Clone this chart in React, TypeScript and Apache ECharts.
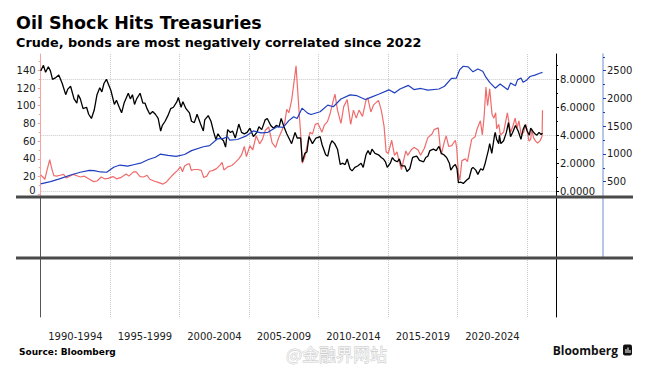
import React, { useEffect, useRef } from "react";
import * as echarts from "echarts";

// ---------------- data ----------------
const periodLabels = ["1990-1994", "1995-1999", "2000-2004", "2005-2009", "2010-2014", "2015-2019", "2020-2024"];
const crudeTicks = [0, 20, 40, 60, 80, 100, 120, 140];
const yieldTicks = [0, 2, 4, 6, 8];
const indexTicks = [500, 1000, 1500, 2000, 2500];

// WTI crude ($/bbl), left axis
const crudeOil: [number, number][] = [
  [1990.15, 22], [1990.3, 19.5], [1990.45, 17], [1990.6, 27], [1990.8, 39], [1990.9, 32], [1990.98, 27],
  [1991.1, 21], [1991.3, 20.5], [1991.55, 21.5], [1991.8, 22.5], [1992.0, 18.5], [1992.3, 21], [1992.5, 22.5],
  [1992.75, 21], [1993.0, 19.5], [1993.3, 20.5], [1993.6, 17.5], [1993.95, 14.3], [1994.2, 15], [1994.5, 19.5],
  [1994.75, 17.5], [1995.0, 18], [1995.35, 20], [1995.6, 17.5], [1995.9, 18.8], [1996.3, 23], [1996.5, 20.5],
  [1996.8, 25], [1997.0, 25.5], [1997.3, 20], [1997.55, 19.5], [1997.8, 21.5], [1998.0, 17], [1998.3, 15],
  [1998.6, 13.5], [1998.95, 11.5], [1999.2, 14], [1999.45, 18.5], [1999.75, 23.5], [2000.0, 27], [2000.2, 31],
  [2000.35, 25.5], [2000.5, 32], [2000.7, 34], [2000.85, 34.5], [2000.98, 27], [2001.2, 28], [2001.45, 28],
  [2001.7, 27], [2001.88, 19], [2002.1, 20.5], [2002.3, 26], [2002.55, 27], [2002.8, 29], [2003.05, 33],
  [2003.2, 36], [2003.33, 27.5], [2003.6, 31], [2003.9, 32.5], [2004.15, 36], [2004.4, 40], [2004.6, 44.5],
  [2004.8, 54], [2004.95, 42.5], [2005.2, 55], [2005.4, 50], [2005.65, 66], [2005.9, 57], [2006.1, 62],
  [2006.3, 72], [2006.55, 76], [2006.8, 58], [2007.05, 53], [2007.25, 63], [2007.5, 72], [2007.7, 80],
  [2007.85, 96], [2008.0, 92], [2008.2, 106], [2008.4, 130], [2008.52, 145], [2008.7, 102], [2008.85, 68],
  [2008.97, 35], [2009.15, 42], [2009.4, 62], [2009.52, 70], [2009.7, 68], [2009.9, 79], [2010.1, 80],
  [2010.38, 70], [2010.55, 78], [2010.78, 82], [2010.97, 91], [2011.2, 106], [2011.32, 113], [2011.5, 95],
  [2011.75, 80], [2011.95, 99], [2012.2, 107], [2012.45, 79], [2012.65, 95], [2012.85, 86], [2013.05, 95],
  [2013.3, 88], [2013.55, 106], [2013.68, 109], [2013.9, 93], [2014.1, 101], [2014.45, 106], [2014.65, 95],
  [2014.85, 77], [2015.0, 48], [2015.15, 46], [2015.4, 61], [2015.6, 44], [2015.78, 48], [2015.95, 36],
  [2016.1, 28], [2016.42, 49], [2016.55, 44], [2016.8, 50], [2017.0, 53], [2017.3, 50], [2017.48, 44],
  [2017.75, 52], [2018.0, 64], [2018.3, 68], [2018.45, 73], [2018.75, 75], [2018.88, 55], [2018.97, 45],
  [2019.2, 60], [2019.32, 66], [2019.5, 54], [2019.72, 55], [2019.98, 61], [2020.08, 52], [2020.2, 23],
  [2020.3, 16], [2020.45, 38], [2020.7, 40], [2020.85, 37], [2020.98, 48], [2021.15, 62], [2021.4, 65],
  [2021.55, 74], [2021.78, 83], [2021.92, 67], [2022.05, 88], [2022.18, 121], [2022.3, 100], [2022.45, 119],
  [2022.62, 90], [2022.75, 86], [2022.88, 92], [2022.95, 74], [2023.1, 79], [2023.22, 67], [2023.45, 70],
  [2023.72, 92], [2023.95, 70], [2024.1, 76], [2024.28, 86], [2024.42, 75], [2024.55, 83], [2024.72, 67],
  [2024.9, 70], [2025.05, 79], [2025.28, 60], [2025.4, 62], [2025.47, 74], [2025.6, 64], [2025.75, 60],
  [2025.9, 58], [2026.05, 60], [2026.18, 64], [2026.22, 66], [2026.25, 95],
];

// US 10-year yield (%), middle axis
const yield10y: [number, number][] = [
  [1990.15, 8.6], [1990.35, 9.0], [1990.5, 8.5], [1990.7, 8.9], [1990.85, 8.6], [1991.0, 8.0], [1991.2, 8.1],
  [1991.45, 8.3], [1991.7, 7.7], [1991.95, 6.9], [1992.1, 7.3], [1992.3, 7.5], [1992.55, 6.6], [1992.75, 6.3],
  [1992.85, 6.9], [1993.0, 6.6], [1993.2, 5.9], [1993.45, 6.0], [1993.6, 5.5], [1993.8, 5.2], [1994.0, 5.8],
  [1994.2, 6.9], [1994.4, 7.4], [1994.55, 7.1], [1994.7, 7.7], [1994.88, 8.0], [1995.0, 7.7], [1995.2, 7.2],
  [1995.45, 6.2], [1995.6, 6.5], [1995.8, 6.0], [1995.97, 5.6], [1996.15, 6.3], [1996.45, 7.0], [1996.6, 6.6],
  [1996.75, 6.9], [1996.9, 6.2], [1997.05, 6.6], [1997.3, 7.0], [1997.5, 6.3], [1997.65, 6.3], [1997.8, 5.9],
  [1998.0, 5.5], [1998.2, 5.7], [1998.4, 5.5], [1998.6, 5.2], [1998.78, 4.3], [1998.9, 4.7], [1999.1, 5.0],
  [1999.3, 5.4], [1999.5, 5.9], [1999.7, 6.0], [1999.95, 6.4], [2000.05, 6.7], [2000.25, 6.0], [2000.38, 6.4],
  [2000.6, 5.9], [2000.85, 5.6], [2001.0, 5.0], [2001.2, 4.9], [2001.4, 5.5], [2001.65, 4.8], [2001.85, 4.3],
  [2001.95, 5.1], [2002.2, 5.4], [2002.4, 5.0], [2002.6, 4.2], [2002.75, 3.7], [2002.9, 4.1], [2003.1, 3.8],
  [2003.3, 3.6], [2003.45, 3.15], [2003.6, 4.4], [2003.8, 4.2], [2003.95, 4.3], [2004.15, 3.8], [2004.4, 4.8],
  [2004.6, 4.2], [2004.8, 4.1], [2005.0, 4.2], [2005.2, 4.5], [2005.45, 3.9], [2005.7, 4.2], [2005.85, 4.6],
  [2006.05, 4.4], [2006.3, 5.1], [2006.45, 5.2], [2006.7, 4.7], [2006.9, 4.5], [2007.1, 4.7], [2007.3, 4.6],
  [2007.45, 5.2], [2007.65, 4.6], [2007.85, 4.1], [2008.0, 3.8], [2008.2, 3.4], [2008.45, 4.2], [2008.6, 3.8],
  [2008.85, 3.8], [2008.97, 2.1], [2009.15, 2.7], [2009.3, 2.8], [2009.45, 3.9], [2009.7, 3.4], [2009.95, 3.8],
  [2010.25, 3.9], [2010.4, 3.3], [2010.65, 2.6], [2010.8, 2.5], [2010.97, 3.3], [2011.1, 3.6], [2011.3, 3.4],
  [2011.5, 3.0], [2011.7, 1.9], [2011.85, 2.0], [2012.05, 1.9], [2012.2, 2.3], [2012.4, 1.6], [2012.55, 1.45],
  [2012.75, 1.7], [2012.95, 1.8], [2013.2, 2.0], [2013.35, 1.7], [2013.55, 2.6], [2013.7, 2.9], [2013.85, 2.6],
  [2013.98, 3.0], [2014.2, 2.7], [2014.45, 2.6], [2014.65, 2.4], [2014.8, 2.3], [2014.95, 2.1], [2015.08, 1.7],
  [2015.3, 2.0], [2015.45, 2.4], [2015.6, 2.2], [2015.8, 2.1], [2015.95, 2.3], [2016.1, 1.8], [2016.35, 1.8],
  [2016.5, 1.4], [2016.7, 1.6], [2016.9, 2.4], [2017.0, 2.45], [2017.2, 2.5], [2017.4, 2.2], [2017.7, 2.1],
  [2017.85, 2.4], [2018.0, 2.5], [2018.15, 2.9], [2018.4, 3.0], [2018.6, 2.9], [2018.8, 3.2], [2018.97, 2.7],
  [2019.15, 2.6], [2019.35, 2.4], [2019.55, 2.0], [2019.65, 1.5], [2019.85, 1.8], [2019.98, 1.9], [2020.1, 1.6],
  [2020.2, 0.6], [2020.35, 0.65], [2020.55, 0.55], [2020.8, 0.8], [2020.97, 0.93], [2021.15, 1.6], [2021.25, 1.7],
  [2021.45, 1.5], [2021.6, 1.2], [2021.8, 1.6], [2021.97, 1.5], [2022.1, 1.9], [2022.25, 2.5], [2022.35, 2.9],
  [2022.45, 3.4], [2022.6, 2.7], [2022.8, 4.0], [2022.85, 4.2], [2022.95, 3.7], [2023.1, 3.4], [2023.15, 4.0],
  [2023.25, 3.4], [2023.45, 3.6], [2023.65, 4.2], [2023.8, 4.9], [2023.95, 3.9], [2024.1, 4.2], [2024.3, 4.7],
  [2024.5, 4.3], [2024.7, 3.7], [2024.85, 4.4], [2025.0, 4.75], [2025.15, 4.3], [2025.3, 4.0], [2025.4, 4.5],
  [2025.55, 4.3], [2025.7, 4.1], [2025.85, 4.0], [2026.0, 4.2], [2026.15, 4.05], [2026.25, 4.15],
];

// Treasury total-return index, right axis
const treasuryIndex: [number, number][] = [
  [1990.15, 460], [1990.85, 500], [1991.5, 550], [1992.3, 620], [1993.0, 670], [1993.65, 705], [1994.0, 700],
  [1994.45, 675], [1994.9, 670], [1995.4, 760], [1995.85, 800], [1996.4, 780], [1996.9, 810], [1997.4, 840],
  [1997.9, 900], [1998.4, 940], [1998.75, 995], [1999.3, 975], [1999.9, 955], [2000.5, 990], [2001.0, 1060],
  [2001.85, 1130], [2002.3, 1150], [2002.85, 1270], [2003.3, 1280], [2003.6, 1310], [2003.75, 1250],
  [2004.3, 1260], [2004.9, 1320], [2005.45, 1415], [2006.0, 1380], [2006.5, 1390], [2007.15, 1490],
  [2007.6, 1480], [2008.0, 1600], [2008.35, 1670], [2008.6, 1640], [2008.95, 1825], [2009.35, 1735],
  [2009.6, 1710], [2010.25, 1760], [2010.8, 1880], [2011.2, 1850], [2011.75, 1990], [2012.4, 2065],
  [2012.9, 2050], [2013.5, 1980], [2013.85, 2015], [2014.5, 2080], [2015.2, 2155], [2015.6, 2100],
  [2016.0, 2170], [2016.6, 2235], [2017.0, 2160], [2017.5, 2180], [2018.0, 2150], [2018.8, 2170],
  [2019.2, 2220], [2019.7, 2360], [2020.05, 2365], [2020.3, 2520], [2020.55, 2580], [2020.9, 2570],
  [2021.25, 2480], [2021.6, 2530], [2021.95, 2490], [2022.15, 2395], [2022.45, 2290], [2022.85, 2185],
  [2023.2, 2260], [2023.75, 2155], [2023.95, 2280], [2024.3, 2230], [2024.45, 2335], [2024.7, 2370],
  [2024.85, 2290], [2025.1, 2330], [2025.35, 2395], [2025.7, 2420], [2026.05, 2455], [2026.25, 2470],
];

// ---------------- layout ----------------
const FONT = "'DejaVu Sans', sans-serif";
const X_MIN = 1990.15;
const X_MAX = 2027.22;
const STEP = 5;
const GRID_LEFT = 40.7;
const GRID_RIGHT = 94;
const TOP0 = 54, BOT0 = 197, BOT1 = 258, BOT2 = 317;
const RIGHT_OFFSET = 47;

const gridYears = periodLabels.map((_, i) => X_MIN + STEP * (i + 1));
const labelYears = periodLabels.map((_, i) => X_MIN + STEP * i + STEP / 2);
const mids = (t: number[]) => t.map((v) => v + (t[1] - t[0]) / 2);
const yieldGridVals = yieldTicks.filter((_, i) => i % 2 === 0);

const RED = "#f06b6b";
const BLUE = "#1f3fbf";
const PINK_AXIS = "#f3a3a3";
const BLUE_AXIS = "#9fb4df";

function xAxis(gridIndex: number, showLabels: boolean) {
  return {
    type: "value",
    gridIndex,
    min: X_MIN,
    max: X_MAX,
    axisLine: { show: false },
    axisTick: { show: false, customValues: gridYears },
    splitLine: { show: true, lineStyle: { color: "#c9c9c9", type: "dotted", width: 1 } },
    axisLabel: showLabels
      ? {
          show: true,
          customValues: labelYears,
          formatter: (v: number) => periodLabels[Math.round((v - X_MIN - STEP / 2) / STEP)] ?? "",
          margin: 14,
          fontFamily: FONT,
          fontSize: 10,
          color: "#222",
        }
      : { show: false },
  };
}

function plainY(gridIndex: number, position: string, offset: number, color: string, width = 1) {
  return {
    type: "value",
    gridIndex,
    position,
    offset,
    min: 0,
    max: 1,
    axisLine: { show: true, lineStyle: { color, width } },
    axisTick: { show: false },
    axisLabel: { show: false },
    splitLine: { show: false },
  };
}

function minorY(position: string, offset: number, min: number, max: number, vals: number[], color: string) {
  return {
    type: "value",
    gridIndex: 0,
    position,
    offset,
    min,
    max,
    axisLine: { show: false },
    axisTick: { show: true, customValues: vals, length: 2, lineStyle: { color } },
    axisLabel: { show: false },
    splitLine: { show: false },
  };
}

const CR_MIN = -3.05, CR_MAX = 158.4;
const YL_MIN = -0.42, YL_MAX = 9.81;
const IX_MIN = 224, IX_MAX = 2801;

export default function App() {
  const ref = useRef<HTMLDivElement>(null);
  useEffect(() => {
    if (!ref.current) return;
    const chart = echarts.init(ref.current, undefined, { renderer: "svg" });
    const labelStyle = { fontFamily: FONT, fontSize: 10, color: "#1a1a1a" };
    chart.setOption({
      animation: false,
      backgroundColor: "#ffffff",
      grid: [
        { left: GRID_LEFT, right: GRID_RIGHT, top: TOP0, height: BOT0 - TOP0 },
        { left: GRID_LEFT, right: GRID_RIGHT, top: BOT0, height: BOT1 - BOT0 },
        { left: GRID_LEFT, right: GRID_RIGHT, top: BOT1, height: BOT2 - BOT1 },
      ],
      xAxis: [xAxis(0, false), xAxis(1, false), xAxis(2, true)],
      yAxis: [
        {
          type: "value", gridIndex: 0, position: "left", min: CR_MIN, max: CR_MAX,
          axisLine: { show: true, lineStyle: { color: PINK_AXIS } },
          axisTick: { show: true, customValues: crudeTicks, length: 3, lineStyle: { color: PINK_AXIS } },
          axisLabel: {
            show: true, customValues: crudeTicks, margin: 5,
            formatter: (v: number) => (v === 0 ? "{lift|0}" : String(v)),
            rich: { lift: { fontFamily: FONT, fontSize: 10, color: "#1a1a1a", padding: [0, 0, 7, 0] } },
            ...labelStyle,
          },
          splitLine: { show: false },
        },
        {
          type: "value", gridIndex: 0, position: "right", offset: 0, min: YL_MIN, max: YL_MAX,
          axisLine: { show: true, lineStyle: { color: "#000" } },
          axisTick: { show: true, customValues: yieldTicks, length: 3, lineStyle: { color: "#000" } },
          axisLabel: { show: true, customValues: yieldTicks, margin: 4, formatter: (v: number) => v.toFixed(4), ...labelStyle },
          splitLine: { show: false },
        },
        {
          type: "value", gridIndex: 0, position: "right", offset: RIGHT_OFFSET, min: IX_MIN, max: IX_MAX,
          axisLine: { show: true, lineStyle: { color: BLUE_AXIS, width: 1.5 } },
          axisTick: { show: true, customValues: indexTicks, length: 3, lineStyle: { color: BLUE } },
          axisLabel: { show: true, customValues: indexTicks, margin: 4, formatter: (v: number) => String(v), ...labelStyle },
          splitLine: { show: false },
        },
        {
          type: "value", gridIndex: 0, position: "right", offset: 0, min: YL_MIN, max: YL_MAX,
          axisLine: { show: false },
          axisTick: { show: false, customValues: yieldGridVals },
          axisLabel: { show: false },
          splitLine: { show: true, lineStyle: { color: "#c9c9c9", type: "dotted", width: 1 } },
        },
        minorY("left", 0, CR_MIN, CR_MAX, mids(crudeTicks), PINK_AXIS),
        minorY("right", 0, YL_MIN, YL_MAX, mids(yieldTicks), "#000"),
        minorY("right", RIGHT_OFFSET, IX_MIN, IX_MAX, mids(indexTicks), BLUE),
        plainY(1, "left", 0, "#555"),
        plainY(1, "right", 0, "#000"),
        plainY(1, "right", RIGHT_OFFSET, BLUE_AXIS, 1.5),
        plainY(2, "left", 0, "#555"),
        plainY(2, "right", 0, "#000"),
      ],
      series: [
        {
          name: "WTI crude", type: "line", xAxisIndex: 0, yAxisIndex: 0, data: crudeOil,
          showSymbol: false, lineStyle: { color: RED, width: 1.2 }, z: 2,
        },
        {
          name: "US 10Y yield", type: "line", xAxisIndex: 0, yAxisIndex: 1, data: yield10y,
          showSymbol: false, lineStyle: { color: "#000", width: 1.3 }, z: 3,
        },
        {
          name: "Treasury index", type: "line", xAxisIndex: 0, yAxisIndex: 2, data: treasuryIndex,
          showSymbol: false, lineStyle: { color: BLUE, width: 1.2 }, z: 4,
        },
      ],
      graphic: [
        { type: "text", x: 16, y: 23.4, z: 10, style: { text: "Oil Shock Hits Treasuries", fontFamily: FONT, fontWeight: "bold", fontSize: 17.5, fill: "#000", verticalAlign: "middle" } },
        { type: "text", x: 16, y: 42, z: 10, style: { text: "Crude, bonds are most negatively correlated since 2022", fontFamily: FONT, fontWeight: "bold", fontSize: 12.8, fill: "#000", verticalAlign: "middle" } },
        { type: "line", z: 10, shape: { x1: 16, y1: BOT0, x2: 633, y2: BOT0 }, style: { stroke: "#4a4a4a", lineWidth: 3 } },
        { type: "line", z: 10, shape: { x1: 16, y1: BOT1, x2: 633, y2: BOT1 }, style: { stroke: "#4a4a4a", lineWidth: 3 } },
        { type: "text", x: 19, y: 352, z: 10, style: { text: "Source: Bloomberg", fontFamily: FONT, fontWeight: "bold", fontSize: 9, fill: "#000", verticalAlign: "middle" } },
        { type: "text", x: 286, y: 353, z: 10, style: { text: "@金融界网站", fontFamily: "'Noto Sans CJK SC', sans-serif", fontSize: 17, fill: "#f4f4f4", stroke: "#c4c4c4", lineWidth: 0.8, verticalAlign: "middle" } },
        { type: "text", x: 618, y: 350, z: 10, style: { text: "Bloomberg", fontFamily: "'Open Sans', sans-serif", fontWeight: 700, fontSize: 12, fill: "#111", align: "right", verticalAlign: "middle" } },
        { type: "rect", z: 10, shape: { x: 623, y: 344.5, width: 9, height: 11, r: 2 }, style: { fill: "#111" } },
        { type: "rect", z: 11, shape: { x: 625.5, y: 349, width: 1, height: 4 }, style: { fill: "#fff" } },
        { type: "rect", z: 11, shape: { x: 627.5, y: 347.5, width: 1, height: 5.5 }, style: { fill: "#fff" } },
        { type: "rect", z: 11, shape: { x: 629.5, y: 350, width: 1, height: 3 }, style: { fill: "#fff" } },
      ],
    });
    return () => chart.dispose();
  }, []);
  return <div ref={ref} style={{ position: "fixed", left: 0, top: 0, width: 650, height: 370, background: "#fff" }} />;
}
